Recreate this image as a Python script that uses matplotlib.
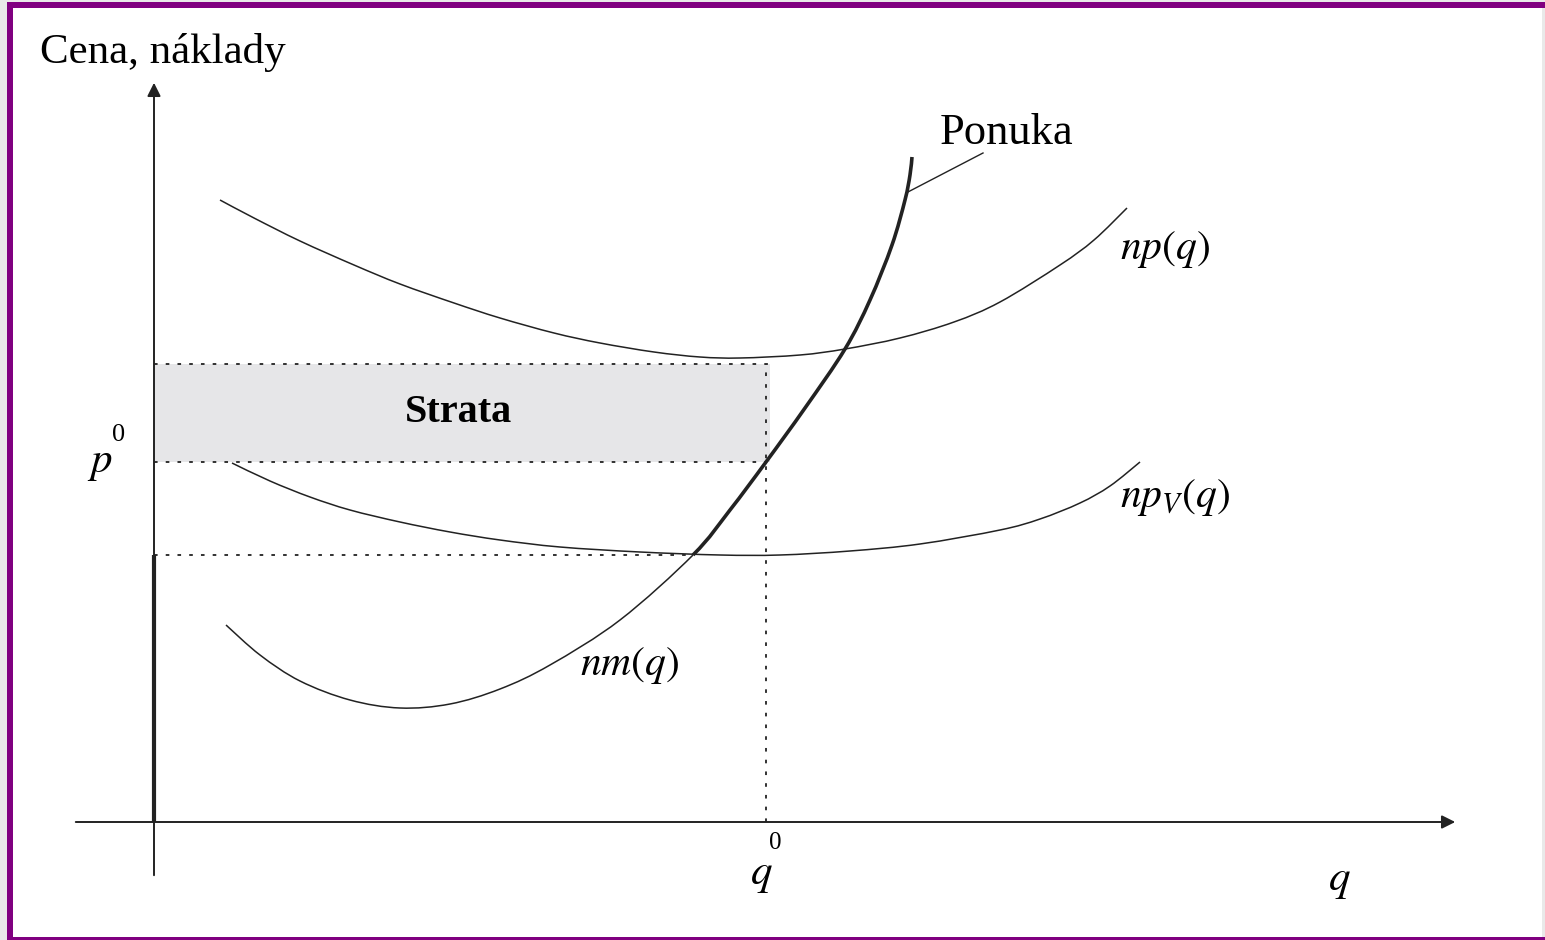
import matplotlib.pyplot as plt
import numpy as np
from matplotlib.patches import Rectangle, PathPatch
from matplotlib.path import Path

plt.rcParams['mathtext.fontset'] = 'stix'
plt.rcParams['font.family'] = ['Liberation Serif', 'DejaVu Serif']

# curve points (q, cost)
np_q = [0.66, 1.00, 1.46, 2.00, 2.46, 3.00, 3.46, 4.00, 4.46, 5.00, 5.46, 5.86,
        6.46, 6.91, 7.46, 8.00, 8.46, 9.06, 9.40, 9.73]
np_c = [6.22, 6.04, 5.81, 5.57, 5.38, 5.19, 5.04, 4.89, 4.79, 4.70, 4.65, 4.64,
        4.67, 4.73, 4.84, 5.00, 5.20, 5.57, 5.82, 6.14]

npv_q = [0.78, 1.16, 1.56, 1.96, 2.46, 2.96, 3.46, 4.06, 4.86, 5.66, 6.26, 6.96,
         7.66, 8.46, 8.86, 9.26, 9.56, 9.86]
npv_c = [3.59, 3.41, 3.25, 3.12, 3.00, 2.90, 2.82, 2.75, 2.70, 2.67, 2.67, 2.71,
         2.78, 2.92, 3.03, 3.19, 3.36, 3.60]

nm_q = [0.72, 1.06, 1.46, 1.96, 2.46, 2.96, 3.46, 3.96, 4.66, 5.39]
nm_c = [1.97, 1.67, 1.41, 1.22, 1.14, 1.18, 1.33, 1.57, 2.02, 2.67]

supply_q = [5.39, 5.76, 6.12, 6.51, 6.91, 7.16, 7.38, 7.51, 7.56, 7.58]
supply_c = [2.67, 3.12, 3.60, 4.14, 4.73, 5.22, 5.77, 6.22, 6.47, 6.65]

q0 = 6.12
p0 = 3.60
ac_at_q0 = 4.58
avc_min = 2.67
q_avc_min = 5.39


# smooth curve through the read points (Catmull-Rom as cubic Bezier segments)
def smooth(xs, ys, before=None, after=None):
    pts = np.column_stack([xs, ys]).astype(float)
    first = np.array(before, float) if before is not None else pts[0]
    last = np.array(after, float) if after is not None else pts[-1]
    verts = [pts[0]]
    codes = [Path.MOVETO]
    n = len(pts)
    for i in range(n - 1):
        a = pts[i - 1] if i > 0 else first
        b, c = pts[i], pts[i + 1]
        d = pts[i + 2] if i + 2 < n else last
        verts += [b + (c - a) / 6, c - (d - b) / 6, c]
        codes += [Path.CURVE4] * 3
    return Path(verts, codes)


W, H = 1545, 940
fig = plt.figure(figsize=(W / 100, H / 100), dpi=100)
fig.patch.set_facecolor('#e9e9e9')


# purple frame (pixel boxes, top-down)
def px_rect(x0, y0, x1, y1, color):
    fig.add_artist(Rectangle((x0 / W, 1 - y1 / H), (x1 - x0) / W, (y1 - y0) / H,
                             transform=fig.transFigure, facecolor=color,
                             edgecolor='none', zorder=-10))


px_rect(7, 2, W, H, '#800080')
px_rect(13, 8, 1542, 937, 'white')
px_rect(1542, 8, W, 937, '#e9e9e9')

ax = fig.add_axes([0, 0, 1, 1])
ax.set_xlim(-1.54, 13.91)
ax.set_ylim(-1.18, 8.22)
ax.axis('off')

ink = '#222222'

# loss rectangle
ax.add_patch(Rectangle((0, p0), 6.16, ac_at_q0 - p0, facecolor='#e6e6e8', edgecolor='none'))

# dotted guides
dot = (0, (2, 4.5))
ax.plot([0, 6.16], [ac_at_q0, ac_at_q0], color=ink, lw=1.3, ls=dot)
ax.plot([0, q0], [p0, p0], color=ink, lw=1.3, ls=dot)
ax.plot([0, q_avc_min], [avc_min, avc_min], color=ink, lw=1.3, ls=dot)
ax.plot([q0, q0], [0, ac_at_q0], color=ink, lw=1.3, ls=dot)

# axes with arrows
ax.annotate('', xy=(13.04, 0), xytext=(-0.81, 0),
            arrowprops=dict(arrowstyle='-|>', color=ink, lw=1.4, mutation_scale=20))
ax.annotate('', xy=(0, 7.42), xytext=(0, -0.56),
            arrowprops=dict(arrowstyle='-|>', color=ink, lw=1.4, mutation_scale=20))

# curves
ax.add_patch(PathPatch(smooth(np_q, np_c), fill=False, edgecolor=ink, lw=1.1))
ax.add_patch(PathPatch(smooth(npv_q, npv_c), fill=False, edgecolor=ink, lw=1.1))
ax.add_patch(PathPatch(smooth(nm_q, nm_c, after=(supply_q[1], supply_c[1])),
                       fill=False, edgecolor=ink, lw=1.1))
ax.add_patch(PathPatch(smooth(supply_q, supply_c, before=(nm_q[-2], nm_c[-2])),
                       fill=False, edgecolor=ink, lw=2.6, capstyle='butt'))
ax.plot([0, 0], [0, avc_min], color=ink, lw=3.0, solid_capstyle='butt')

# leader for supply label
ax.plot([7.52, 8.29], [6.29, 6.69], color=ink, lw=1.0)

# texts
ax.text(-1.14, 7.70, 'Cena, náklady', fontsize=31, ha='left', va='center')
ax.text(7.86, 6.89, 'Ponuka', fontsize=32, ha='left', va='center')
ax.text(2.51, 4.09, 'Strata', fontsize=29, fontweight='bold', ha='left', va='center')
ax.text(9.66, 5.72, '$np(q)$', fontsize=30, ha='left', va='center')
ax.text(9.66, 3.25, '$np_V(q)$', fontsize=30, ha='left', va='center')
ax.text(4.26, 1.57, '$nm(q)$', fontsize=30, ha='left', va='center')

ax.text(-0.54, 3.58, '$p$', fontsize=31, ha='center', va='center')
ax.text(-0.35, 3.87, '0', fontsize=19, ha='center', va='center')
ax.text(6.07, -0.54, '$q$', fontsize=31, ha='center', va='center')
ax.text(6.21, -0.21, '0', fontsize=18, ha='center', va='center')
ax.text(11.85, -0.60, '$q$', fontsize=31, ha='center', va='center')

fig.savefig('out.png', dpi=100)
